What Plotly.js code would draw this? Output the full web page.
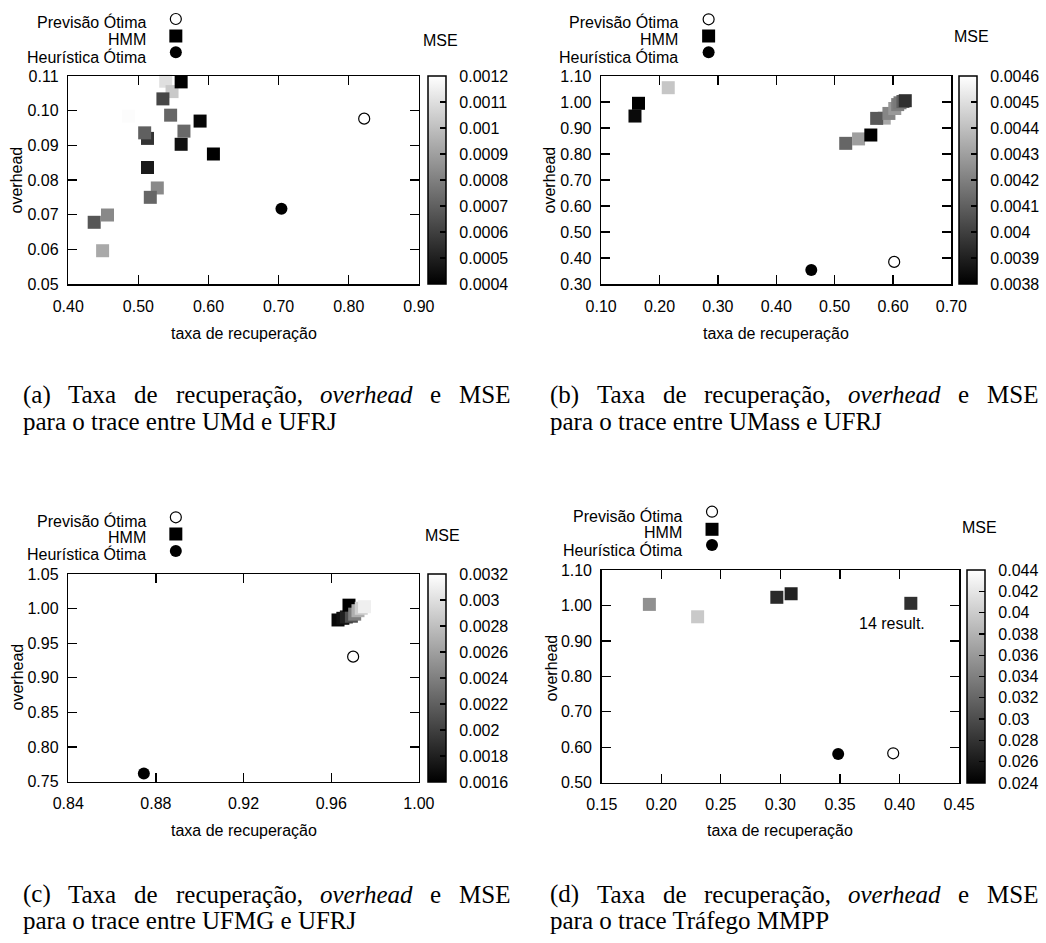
<!DOCTYPE html>
<html><head><meta charset="utf-8">
<script src="https://cdn.plot.ly/plotly-3.0.1.min.js"></script>
<style>html,body{margin:0;padding:0;background:#fff}</style>
</head><body><div id="chart" style="width:1046px;height:943px"></div>
<script>
// ---------- Panel (a): UMd - UFRJ ----------
const aHmmX   = [0.539, 0.548, 0.561, 0.535, 0.486, 0.546, 0.588, 0.565, 0.513, 0.509, 0.561, 0.607, 0.513, 0.527, 0.517, 0.456, 0.437, 0.449];
const aHmmY   = [0.1085, 0.1055, 0.1083, 0.1034, 0.0984, 0.0987, 0.0970, 0.0941, 0.0920, 0.0936, 0.0903, 0.0875, 0.0836, 0.0777, 0.0750, 0.0699, 0.0678, 0.0596];
const aHmmMse = [0.00110, 0.00103, 0.00040, 0.00062, 0.00119, 0.00072, 0.00042, 0.00073, 0.00056, 0.00070, 0.00045, 0.00040, 0.00048, 0.00083, 0.00072, 0.00083, 0.00067, 0.00093];
const aPrevX = [0.822], aPrevY = [0.0977];
const aHeurX = [0.704], aHeurY = [0.0717];
const aCbVals   = [0.0004, 0.0005, 0.0006, 0.0007, 0.0008, 0.0009, 0.0010, 0.0011, 0.0012];
const aCbLabels = ["0.0004", "0.0005", "0.0006", "0.0007", "0.0008", "0.0009", "0.001", "0.0011", "0.0012"];

// ---------- Panel (b): UMass - UFRJ ----------
const bHmmX   = [0.215, 0.164, 0.158, 0.519, 0.541, 0.562, 0.585, 0.572, 0.593, 0.603, 0.608, 0.612, 0.617, 0.621];
const bHmmY   = [1.055, 0.995, 0.946, 0.841, 0.858, 0.873, 0.938, 0.937, 0.956, 0.975, 0.990, 0.997, 1.002, 1.005];
const bHmmMse = [0.00442, 0.00380, 0.00383, 0.00412, 0.00430, 0.00380, 0.00433, 0.00408, 0.00422, 0.00428, 0.00420, 0.00418, 0.00410, 0.00395];
const bPrevX = [0.602], bPrevY = [0.385];
const bHeurX = [0.460], bHeurY = [0.354];
const bCbVals   = [0.0038, 0.0039, 0.0040, 0.0041, 0.0042, 0.0043, 0.0044, 0.0045, 0.0046];
const bCbLabels = ["0.0038", "0.0039", "0.004", "0.0041", "0.0042", "0.0043", "0.0044", "0.0045", "0.0046"];

// ---------- Panel (c): UFMG - UFRJ ----------
const cHmmX   = [0.9631, 0.9653, 0.9669, 0.9692, 0.9681, 0.9707, 0.9722, 0.9737, 0.9752];
const cHmmY   = [0.9836, 0.9860, 0.9880, 0.9890, 1.0050, 0.9920, 0.9970, 1.0005, 1.0028];
const cHmmMse = [0.00165, 0.00170, 0.00180, 0.00210, 0.00160, 0.00240, 0.00270, 0.00290, 0.00310];
const cPrevX = [0.970], cPrevY = [0.9306];
const cHeurX = [0.8745], cHeurY = [0.762];
const cCbVals   = [0.0016, 0.0018, 0.0020, 0.0022, 0.0024, 0.0026, 0.0028, 0.0030, 0.0032];
const cCbLabels = ["0.0016", "0.0018", "0.002", "0.0022", "0.0024", "0.0026", "0.0028", "0.003", "0.0032"];

// ---------- Panel (d): Tráfego MMPP ----------
const dHmmX   = [0.190, 0.2305, 0.297, 0.309, 0.4095];
const dHmmY   = [1.003, 0.968, 1.023, 1.033, 1.006];
const dHmmMse = [0.0353, 0.0398, 0.0273, 0.0267, 0.0278];
const dPrevX = [0.3947], dPrevY = [0.583];
const dHeurX = [0.3485], dHeurY = [0.581];
const dCbVals   = [0.024, 0.026, 0.028, 0.030, 0.032, 0.034, 0.036, 0.038, 0.040, 0.042, 0.044];
const dCbLabels = ["0.024", "0.026", "0.028", "0.03", "0.032", "0.034", "0.036", "0.038", "0.04", "0.042", "0.044"];
const dNote = "14 result.";

// ---------- Texts ----------
const legendLabels = ["Previsão Ótima", "HMM", "Heurística Ótima"];
const xTitle = "taxa de recuperação";
const yTitle = "overhead";
const cbTitle = "MSE";
const captionLine1 = ["Taxa", "de", "recuperação,", "<i>overhead</i>", "e", "MSE"];
const captionTags = ["(a)", "(b)", "(c)", "(d)"];
const captionLine2 = ["para o trace entre UMd e UFRJ", "para o trace entre UMass e UFRJ", "para o trace entre UFMG e UFRJ", "para o trace Tráfego MMPP"];

// ---------- Layout geometry (pixels) ----------
const W = 1046, H = 943;
const FONT = "Liberation Sans, Arial, sans-serif";
const SERIF = "Liberation Serif, Times New Roman, serif";
const FS = 16;
const CAP = 25;
const fx = p => p / W, fy = p => 1 - p / H;
const pad = s => "\u00a0\u00a0" + s;

const panels = [
  {hx: aHmmX, hy: aHmmY, hm: aHmmMse, px: aPrevX, py: aPrevY, ex: aHeurX, ey: aHeurY, cbv: aCbVals, cbl: aCbLabels,
   L: 68.3, R: 419.3, T: 76, B: 284, xr: [0.4, 0.9], xd: 0.1, yr: [0.05, 0.11], yd: 0.01,
   cbL: 428, cbT: 76, cbB: 284, mse: [441, 41], legTx: 147, legMx: 176, legY: [19, 36, 52.3], legTy: [22.5, 39.5, 57],
   xt: [243.8, 333], yt: [17.5, 180], cap: [22, 510, 395, 421.5]},
  {hx: bHmmX, hy: bHmmY, hm: bHmmMse, px: bPrevX, py: bPrevY, ex: bHeurX, ey: bHeurY, cbv: bCbVals, cbl: bCbLabels,
   L: 601.7, R: 952.3, T: 76, B: 284, xr: [0.1, 0.7], xd: 0.1, yr: [0.3, 1.1], yd: 0.1,
   cbL: 959, cbT: 76, cbB: 284, mse: [972.5, 37], legTx: 680, legMx: 709.3, legY: [19.3, 36, 52.3], legTy: [22.5, 39.5, 57],
   xt: [777, 333], yt: [551, 180], cap: [550, 1038, 395, 421.5]},
  {hx: cHmmX, hy: cHmmY, hm: cHmmMse, px: cPrevX, py: cPrevY, ex: cHeurX, ey: cHeurY, cbv: cCbVals, cbl: cCbLabels,
   L: 68.3, R: 419.3, T: 574, B: 781.7, xr: [0.84, 1.0], xd: 0.04, yr: [0.75, 1.05], yd: 0.05,
   cbL: 428, cbT: 574, cbB: 781.7, mse: [443, 535.3], legTx: 147, legMx: 176, legY: [517.3, 534, 551], legTy: [520.5, 537.5, 554],
   xt: [243.8, 830], yt: [17.5, 677], cap: [22, 510, 894, 920]},
  {hx: dHmmX, hy: dHmmY, hm: dHmmMse, px: dPrevX, py: dPrevY, ex: dHeurX, ey: dHeurY, cbv: dCbVals, cbl: dCbLabels,
   L: 602.3, R: 960, T: 570, B: 782.7, xr: [0.15, 0.45], xd: 0.05, yr: [0.5, 1.1], yd: 0.1,
   cbL: 967.3, cbT: 570, cbB: 782.7, mse: [980, 527], legTx: 683.3, legMx: 712.7, legY: [511.7, 529.3, 545], legTy: [515.5, 532.5, 549.5],
   xt: [781, 830], yt: [552, 668], cap: [550, 1038, 894, 920]}
];

const traces = [];
const layout = {
  width: W, height: H, margin: {l: 0, r: 0, t: 0, b: 0},
  paper_bgcolor: "#fff", plot_bgcolor: "#fff", showlegend: false,
  font: {family: FONT, size: FS, color: "#000"},
  annotations: [], shapes: []
};

const ctx = document.createElement("canvas").getContext("2d");
function textWidth(t, size) {
  const italic = /<i>/.test(t);
  ctx.font = (italic ? "italic " : "") + size + "px 'Liberation Serif'";
  return ctx.measureText(t.replace(/<\/?i>/g, "")).width;
}

panels.forEach((p, i) => {
  const n = i + 1;
  const xa = n === 1 ? "x" : "x" + n, ya = n === 1 ? "y" : "y" + n;
  const xk = n === 1 ? "xaxis" : "xaxis" + n, yk = n === 1 ? "yaxis" : "yaxis" + n;
  const ca = n === 1 ? "coloraxis" : "coloraxis" + n;
  const axCommon = {showline: true, linecolor: "#000", linewidth: 1.5, mirror: "ticks", ticks: "inside",
    ticklen: 9, tickwidth: 1.3, tickcolor: "#000", showgrid: false, zeroline: false,
    tickfont: {family: FONT, size: FS, color: "#000"}, tickformat: ".2f", fixedrange: true};
  layout[xk] = Object.assign({}, axCommon, {domain: [fx(p.L), fx(p.R)], range: p.xr, tick0: p.xr[0], dtick: p.xd, anchor: ya, ticklabelstandoff: 7});
  layout[yk] = Object.assign({}, axCommon, {domain: [fy(p.B), fy(p.T)], range: p.yr, tick0: p.yr[0], dtick: p.yd, anchor: xa, ticklabelstandoff: 5});
  layout[ca] = {cmin: p.cbv[0], cmax: p.cbv[p.cbv.length - 1], colorscale: [[0, "#000"], [1, "#fff"]],
    colorbar: {x: fx(p.cbL), xanchor: "left", xpad: 0, y: fy(p.cbT), yanchor: "top", ypad: 0,
      len: p.cbB - p.cbT, lenmode: "pixels", thickness: 18, thicknessmode: "pixels",
      outlinewidth: 1.5, outlinecolor: "#000", ticks: "inside", ticklen: 6, tickwidth: 1.3, tickcolor: "#000",
      tickvals: p.cbv, ticktext: p.cbl.map(pad), tickfont: {family: FONT, size: FS, color: "#000"}}};

  traces.push({type: "scatter", mode: "markers", x: p.hx, y: p.hy, xaxis: xa, yaxis: ya, cliponaxis: false,
    marker: {symbol: "square", size: 13, color: p.hm, coloraxis: ca, line: {width: 0}}, hoverinfo: "x+y"});
  traces.push({type: "scatter", mode: "markers", x: p.ex, y: p.ey, xaxis: xa, yaxis: ya, cliponaxis: false,
    marker: {symbol: "circle", size: 12, color: "#000", line: {width: 0}}});
  traces.push({type: "scatter", mode: "markers", x: p.px, y: p.py, xaxis: xa, yaxis: ya, cliponaxis: false,
    marker: {symbol: "circle", size: 11, color: "#fff", line: {width: 1.2, color: "#000"}}});

  // legend (text right-aligned, key to the right)
  legendLabels.forEach((lab, k) => {
    layout.annotations.push({xref: "paper", yref: "paper", x: fx(p.legTx), y: fy(p.legTy[k]), xanchor: "right", yanchor: "middle",
      text: lab, showarrow: false, borderpad: 0, font: {family: FONT, size: FS, color: "#000"}});
  });
  const cx = p.legMx;
  layout.shapes.push({type: "circle", xref: "paper", yref: "paper", x0: fx(cx - 5.5), x1: fx(cx + 5.5), y0: fy(p.legY[0] + 5.5), y1: fy(p.legY[0] - 5.5),
    line: {color: "#000", width: 1.2}, fillcolor: "#fff"});
  layout.shapes.push({type: "rect", xref: "paper", yref: "paper", x0: fx(cx - 6.5), x1: fx(cx + 6.5), y0: fy(p.legY[1] + 6.5), y1: fy(p.legY[1] - 6.5),
    line: {width: 0}, fillcolor: "#000"});
  layout.shapes.push({type: "circle", xref: "paper", yref: "paper", x0: fx(cx - 6), x1: fx(cx + 6), y0: fy(p.legY[2] + 6), y1: fy(p.legY[2] - 6),
    line: {width: 0}, fillcolor: "#000"});

  // MSE title
  layout.annotations.push({xref: "paper", yref: "paper", x: fx(p.mse[0]), y: fy(p.mse[1]), xanchor: "center", yanchor: "middle",
    text: cbTitle, showarrow: false, borderpad: 0, font: {family: FONT, size: FS, color: "#000"}});
  // axis titles
  layout.annotations.push({xref: "paper", yref: "paper", x: fx(p.xt[0]), y: fy(p.xt[1]), xanchor: "center", yanchor: "middle",
    text: xTitle, showarrow: false, borderpad: 0, font: {family: FONT, size: FS, color: "#000"}});
  layout.annotations.push({xref: "paper", yref: "paper", x: fx(p.yt[0]), y: fy(p.yt[1]), xanchor: "center", yanchor: "middle",
    text: yTitle, textangle: -90, showarrow: false, borderpad: 0, font: {family: FONT, size: FS, color: "#000"}});

  // caption: justified first line, left-aligned second line
  const words = [captionTags[i]].concat(captionLine1);
  const widths = words.map(w => textWidth(w, CAP));
  const total = widths.reduce((s, v) => s + v, 0);
  const gap = (p.cap[1] - p.cap[0] - total) / (words.length - 1);
  let xpos = p.cap[0];
  words.forEach((w, k) => {
    layout.annotations.push({xref: "paper", yref: "paper", x: fx(xpos), y: fy(p.cap[2]), xanchor: "left", yanchor: "middle",
      text: w, showarrow: false, borderpad: 0, font: {family: SERIF, size: CAP, color: "#000"}});
    xpos += widths[k] + gap;
  });
  layout.annotations.push({xref: "paper", yref: "paper", x: fx(p.cap[0]), y: fy(p.cap[3]), xanchor: "left", yanchor: "middle",
    text: captionLine2[i], showarrow: false, borderpad: 0, font: {family: SERIF, size: CAP, color: "#000"}});
});

// note in panel (d)
layout.annotations.push({xref: "x4", yref: "y4", x: 0.394, y: 0.95, xanchor: "center", yanchor: "middle",
  text: dNote, showarrow: false, borderpad: 0, font: {family: FONT, size: FS, color: "#000"}});

Plotly.newPlot("chart", traces, layout, {displayModeBar: false, staticPlot: true});
</script>
</body></html>
